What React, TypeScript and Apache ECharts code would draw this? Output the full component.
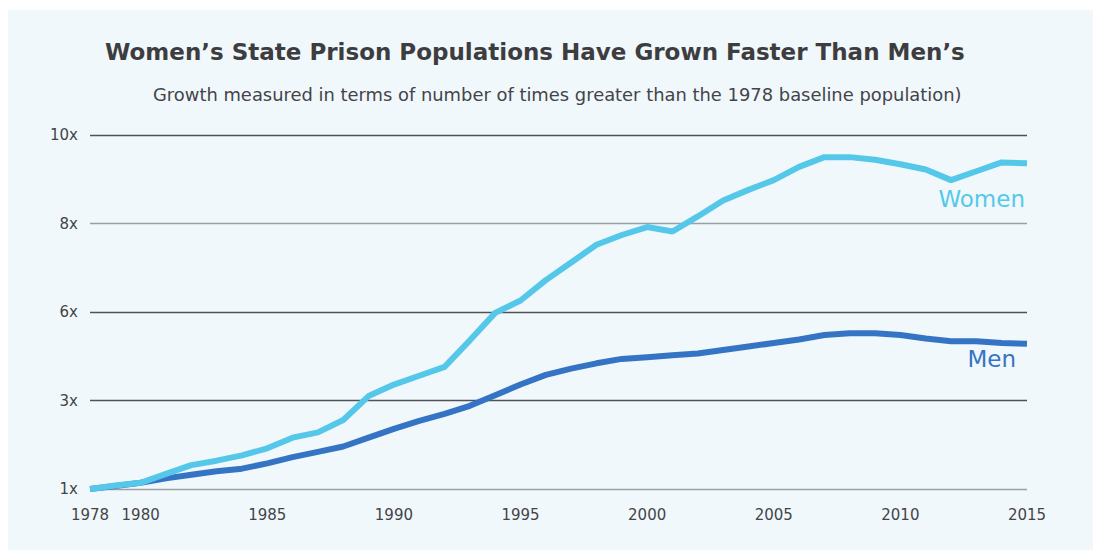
import React, { useEffect, useRef } from "react";
import * as echarts from "echarts";

// Years on the horizontal axis
const years: number[] = [];
for (let y = 1978; y <= 2015; y++) years.push(y);

// Labelled years along the bottom
const yearTicks = [1978, 1980, 1985, 1990, 1995, 2000, 2005, 2010, 2015];

// Vertical scale: evenly spaced gridlines, one step per label
const growthTicks = ["1x", "3x", "6x", "8x", "10x"];

// Growth, in gridline steps above the 1978 baseline
const women = [
  0, 0.04, 0.07, 0.17, 0.27, 0.32, 0.38, 0.46, 0.58, 0.64,
  0.78, 1.05, 1.18, 1.28, 1.38, 1.68, 1.99, 2.13, 2.36, 2.56,
  2.76, 2.87, 2.96, 2.91, 3.08, 3.26, 3.38, 3.49, 3.64, 3.75,
  3.75, 3.72, 3.67, 3.61, 3.49, 3.59, 3.69, 3.68,
];
const men = [
  0, 0.035, 0.07, 0.12, 0.16, 0.2, 0.23, 0.29, 0.36, 0.42,
  0.48, 0.58, 0.68, 0.77, 0.85, 0.94, 1.06, 1.18, 1.29, 1.36,
  1.42, 1.47, 1.49, 1.51, 1.53, 1.57, 1.61, 1.65, 1.69, 1.74,
  1.76, 1.76, 1.74, 1.7, 1.67, 1.67, 1.65, 1.64,
];

const WOMEN_COLOR = "#55c8ea";
const MEN_COLOR = "#3574c5";
const TEXT = "#444448";

export default function App() {
  const ref = useRef<HTMLDivElement>(null);

  useEffect(() => {
    if (!ref.current) return;
    const chart = echarts.init(ref.current, undefined, { renderer: "svg" });
    chart.setOption({
      animation: false,
      backgroundColor: "#ffffff",
      grid: { left: 90, right: 67, top: 135, bottom: 61, containLabel: false },
      graphic: [
        {
          type: "rect",
          z: -10,
          shape: { x: 8, y: 10, width: 1085, height: 540 },
          style: { fill: "#f0f8fc" },
        },
        {
          type: "text",
          left: 105,
          top: 40,
          style: {
            text: "Women’s State Prison Populations Have Grown Faster Than Men’s",
            font: "bold 23px 'DejaVu Sans'",
            fill: "#3d3d40",
          },
        },
        {
          type: "text",
          left: 153,
          top: 85,
          style: {
            text: "Growth measured in terms of number of times greater than the 1978 baseline population)",
            font: "400 17.9px 'DejaVu Sans'",
            fill: TEXT,
          },
        },
        {
          type: "text",
          x: 1025,
          y: 210,
          style: {
            text: "Women",
            font: "500 23px 'DejaVu Sans'",
            fill: WOMEN_COLOR,
            align: "right",
            verticalAlign: "bottom",
          },
        },
        {
          type: "text",
          x: 1016,
          y: 370,
          style: {
            text: "Men",
            font: "500 23px 'DejaVu Sans'",
            fill: MEN_COLOR,
            align: "right",
            verticalAlign: "bottom",
          },
        },
      ],
      xAxis: {
        type: "value",
        min: 1978,
        max: 2015,
        axisLine: { show: false },
        axisTick: { show: false },
        splitLine: { show: false },
        axisLabel: {
          customValues: yearTicks,
          margin: 18,
          color: TEXT,
          fontSize: 15,
          fontFamily: "DejaVu Sans",
          formatter: (v: number) => String(v),
        },
      },
      yAxis: {
        type: "value",
        min: 0,
        max: growthTicks.length - 1,
        interval: 1,
        axisLine: { show: false },
        axisTick: { show: false },
        splitLine: {
          lineStyle: {
            color: ["#9b9ea2", "#505254", "#505254", "#9b9ea2", "#505254"],
            width: 1.3,
          },
        },
        axisLabel: {
          margin: 12,
          color: TEXT,
          fontSize: 15,
          fontFamily: "DejaVu Sans",
          formatter: (v: number) => growthTicks[Math.round(v)] ?? "",
        },
      },
      series: [
        {
          name: "Men",
          type: "line",
          data: years.map((y, i) => [y, men[i]]),
          showSymbol: false,
          lineStyle: { color: MEN_COLOR, width: 6 },
          itemStyle: { color: MEN_COLOR },
        },
        {
          name: "Women",
          type: "line",
          data: years.map((y, i) => [y, women[i]]),
          showSymbol: false,
          lineStyle: { color: WOMEN_COLOR, width: 6 },
          itemStyle: { color: WOMEN_COLOR },
        },
      ],
    });
    return () => chart.dispose();
  }, []);

  return (
    <div
      ref={ref}
      style={{ position: "fixed", left: 0, top: 0, width: 1094, height: 550 }}
    />
  );
}
